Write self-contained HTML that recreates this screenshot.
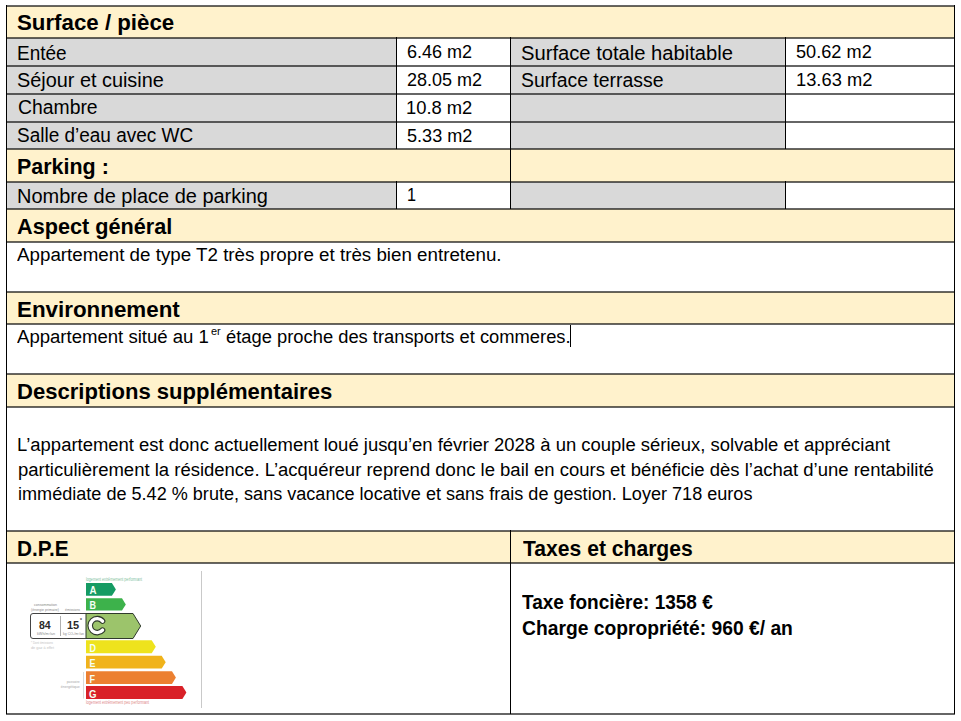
<!DOCTYPE html>
<html><head><meta charset="utf-8"><style>
html,body{margin:0;padding:0;background:#fff;width:961px;height:721px;overflow:hidden}
i{position:absolute;display:block}
.t{position:absolute;white-space:nowrap;font-family:"Liberation Sans",sans-serif;line-height:40px;color:#000;transform-origin:0 0}
sup{font-size:0.62em;vertical-align:0;position:relative;top:-0.45em;line-height:0}
</style></head><body>
<i style='left:6px;top:6px;width:948px;height:32px;background:#FFF2CC'></i><i style='left:6px;top:38px;width:390px;height:28px;background:#D9D9D9'></i><i style='left:510px;top:38px;width:275px;height:28px;background:#D9D9D9'></i><i style='left:6px;top:66px;width:390px;height:28px;background:#D9D9D9'></i><i style='left:510px;top:66px;width:275px;height:28px;background:#D9D9D9'></i><i style='left:6px;top:94px;width:390px;height:28px;background:#D9D9D9'></i><i style='left:510px;top:94px;width:275px;height:28px;background:#D9D9D9'></i><i style='left:6px;top:122px;width:390px;height:27px;background:#D9D9D9'></i><i style='left:510px;top:122px;width:275px;height:27px;background:#D9D9D9'></i><i style='left:6px;top:149px;width:948px;height:33px;background:#FFF2CC'></i><i style='left:6px;top:182px;width:390px;height:27px;background:#D9D9D9'></i><i style='left:510px;top:182px;width:275px;height:27px;background:#D9D9D9'></i><i style='left:6px;top:209px;width:948px;height:33px;background:#FFF2CC'></i><i style='left:6px;top:292px;width:948px;height:32px;background:#FFF2CC'></i><i style='left:6px;top:374px;width:948px;height:33px;background:#FFF2CC'></i><i style='left:6px;top:531px;width:948px;height:32px;background:#FFF2CC'></i><i style='left:6px;top:5px;width:949px;height:2px;background:rgba(0,0,0,0.6)'></i><i style='left:6px;top:37px;width:949px;height:2px;background:rgba(0,0,0,0.6)'></i><i style='left:6px;top:65px;width:949px;height:2px;background:rgba(0,0,0,0.6)'></i><i style='left:6px;top:93px;width:949px;height:2px;background:rgba(0,0,0,0.6)'></i><i style='left:6px;top:121px;width:949px;height:2px;background:rgba(0,0,0,0.6)'></i><i style='left:6px;top:148px;width:949px;height:2px;background:rgba(0,0,0,0.6)'></i><i style='left:6px;top:181px;width:949px;height:2px;background:rgba(0,0,0,0.6)'></i><i style='left:6px;top:208px;width:949px;height:2px;background:rgba(0,0,0,0.6)'></i><i style='left:6px;top:241px;width:949px;height:2px;background:rgba(0,0,0,0.6)'></i><i style='left:6px;top:291px;width:949px;height:2px;background:rgba(0,0,0,0.6)'></i><i style='left:6px;top:323px;width:949px;height:2px;background:rgba(0,0,0,0.6)'></i><i style='left:6px;top:373px;width:949px;height:2px;background:rgba(0,0,0,0.6)'></i><i style='left:6px;top:406px;width:949px;height:2px;background:rgba(0,0,0,0.6)'></i><i style='left:6px;top:530px;width:949px;height:2px;background:rgba(0,0,0,0.6)'></i><i style='left:6px;top:562px;width:949px;height:2px;background:rgba(0,0,0,0.6)'></i><i style='left:6px;top:713px;width:949px;height:2px;background:rgba(0,0,0,0.6)'></i><i style='left:6px;top:5px;width:1px;height:709px;background:#000'></i><i style='left:954px;top:5px;width:1px;height:709px;background:#000'></i><i style='left:396px;top:37px;width:1px;height:29px;background:#000'></i><i style='left:510px;top:37px;width:1px;height:29px;background:#000'></i><i style='left:785px;top:37px;width:1px;height:29px;background:#000'></i><i style='left:396px;top:65px;width:1px;height:29px;background:#000'></i><i style='left:510px;top:65px;width:1px;height:29px;background:#000'></i><i style='left:785px;top:65px;width:1px;height:29px;background:#000'></i><i style='left:396px;top:93px;width:1px;height:29px;background:#000'></i><i style='left:510px;top:93px;width:1px;height:29px;background:#000'></i><i style='left:785px;top:93px;width:1px;height:29px;background:#000'></i><i style='left:396px;top:121px;width:1px;height:28px;background:#000'></i><i style='left:510px;top:121px;width:1px;height:28px;background:#000'></i><i style='left:785px;top:121px;width:1px;height:28px;background:#000'></i><i style='left:396px;top:181px;width:1px;height:28px;background:#000'></i><i style='left:510px;top:181px;width:1px;height:28px;background:#000'></i><i style='left:785px;top:181px;width:1px;height:28px;background:#000'></i><i style='left:510px;top:148px;width:1px;height:34px;background:#000'></i><i style='left:510px;top:530px;width:1px;height:184px;background:#000'></i><div class='t' style='left:16.50px;top:3.30px;font-size:22px;font-weight:bold;transform:scaleX(1.0123)'>Surface / pièce</div><div class='t' style='left:17.33px;top:32.50px;font-size:19.5px;font-weight:normal;transform:scaleX(0.9740)'>Entée</div><div class='t' style='left:16.58px;top:59.50px;font-size:19.5px;font-weight:normal;transform:scaleX(1.0182)'>Séjour et cuisine</div><div class='t' style='left:17.60px;top:87.40px;font-size:19.5px;font-weight:normal;transform:scaleX(0.9925)'>Chambre</div><div class='t' style='left:16.63px;top:115.00px;font-size:19.5px;font-weight:normal;transform:scaleX(0.9733)'>Salle d’eau avec WC</div><div class='t' style='left:406.90px;top:32.00px;font-size:18.5px;font-weight:normal;transform:scaleX(0.9742)'>6.46 m2</div><div class='t' style='left:406.80px;top:60.00px;font-size:18.5px;font-weight:normal;transform:scaleX(0.9740)'>28.05 m2</div><div class='t' style='left:405.91px;top:88.00px;font-size:18.5px;font-weight:normal;transform:scaleX(0.9923)'>10.8 m2</div><div class='t' style='left:406.70px;top:116.00px;font-size:18.5px;font-weight:normal;transform:scaleX(0.9773)'>5.33 m2</div><div class='t' style='left:520.57px;top:32.60px;font-size:19.5px;font-weight:normal;transform:scaleX(1.0348)'>Surface totale habitable</div><div class='t' style='left:520.60px;top:60.20px;font-size:19.5px;font-weight:normal;transform:scaleX(0.9965)'>Surface terrasse</div><div class='t' style='left:796.10px;top:32.00px;font-size:18.5px;font-weight:normal;transform:scaleX(0.9818)'>50.62 m2</div><div class='t' style='left:796.31px;top:60.00px;font-size:18.5px;font-weight:normal;transform:scaleX(0.9895)'>13.63 m2</div><div class='t' style='left:17.23px;top:146.80px;font-size:22px;font-weight:bold;transform:scaleX(0.9750)'>Parking :</div><div class='t' style='left:16.98px;top:175.80px;font-size:19.5px;font-weight:normal;transform:scaleX(1.0242)'>Nombre de place de parking</div><div class='t' style='left:407.02px;top:175.00px;font-size:18.5px;font-weight:normal;transform:scaleX(0.8778)'>1</div><div class='t' style='left:17.40px;top:206.70px;font-size:22px;font-weight:bold;transform:scaleX(0.9841)'>Aspect général</div><div class='t' style='left:17.20px;top:234.60px;font-size:18px;font-weight:normal;transform:scaleX(1.0422)'>Appartement de type T2 très propre et très bien entretenu.</div><div class='t' style='left:16.88px;top:289.50px;font-size:22px;font-weight:bold;transform:scaleX(1.0164)'>Environnement</div><div class='t' style='left:17.20px;top:317.30px;font-size:18px;font-weight:normal;transform:scaleX(1.0312)'>Appartement situé au 1</div><div class='t' style='left:210.60px;top:311.00px;font-size:10.5px;font-weight:normal;transform:scaleX(1.0444)'>er</div><div class='t' style='left:225.60px;top:317.30px;font-size:18px;font-weight:normal;transform:scaleX(1.0190)'>étage proche des transports et commeres.</div><div class='t' style='left:17.00px;top:371.60px;font-size:22px;font-weight:bold;transform:scaleX(1.0032)'>Descriptions supplémentaires</div><div class='t' style='left:17.27px;top:424.80px;font-size:18px;font-weight:normal;transform:scaleX(1.0253)'>L’appartement est donc actuellement loué jusqu’en février 2028 à un couple sérieux, solvable et appréciant</div><div class='t' style='left:18.00px;top:449.50px;font-size:18px;font-weight:normal;transform:scaleX(1.0273)'>particulièrement la résidence. L’acquéreur reprend donc le bail en cours et bénéficie dès l’achat d’une rentabilité</div><div class='t' style='left:18.00px;top:473.80px;font-size:18px;font-weight:normal;transform:scaleX(1.0041)'>immédiate de 5.42 % brute, sans vacance locative et sans frais de gestion. Loyer 718 euros</div><div class='t' style='left:17.36px;top:528.70px;font-size:22px;font-weight:bold;transform:scaleX(0.9434)'>D.P.E</div><div class='t' style='left:522.70px;top:528.60px;font-size:22px;font-weight:bold;transform:scaleX(0.9593)'>Taxes et charges</div><div class='t' style='left:521.70px;top:581.70px;font-size:20px;font-weight:bold;transform:scaleX(0.9498)'>Taxe foncière: 1358 €</div><div class='t' style='left:521.70px;top:608.40px;font-size:20px;font-weight:bold;transform:scaleX(0.9633)'>Charge copropriété: 960 €/ an</div><i style='left:570px;top:325px;width:1px;height:22px;background:#000'></i>
<svg style='position:absolute;left:0;top:0' width='961' height='721' viewBox='0 0 961 721'><line x1='201.5' y1='571' x2='201.5' y2='708' stroke='#c9c9c9' stroke-width='1'/><text x='86' y='581' font-size='4.6' fill='#7fbf9f' textLength='56' lengthAdjust='spacingAndGlyphs' style="font-family:'Liberation Sans',sans-serif">logement extrêmement performant</text><polygon points='86,583 111.9,583 115.9,589.4 111.9,595.8 86,595.8' fill='#159b63'/><polygon points='86,598.2 122.0,598.2 125.8,604.4 122.0,610.6 86,610.6' fill='#3db24b'/><polygon points='86,640.2 151.7,640.2 155.8,646.8 151.7,653.3 86,653.3' fill='#eee31d'/><polygon points='86,655.8 161.7,655.8 165.7,662.2 161.7,668.6 86,668.6' fill='#f0b31b'/><polygon points='86,671.2 172.0,671.2 175.9,677.5 172.0,683.9 86,683.9' fill='#ec8031'/><polygon points='86,686.1 182.4,686.1 186.4,692.5 182.4,698.9 86,698.9' fill='#d92128'/><rect x='30.5' y='613.5' width='60' height='25' rx='2.5' fill='#fff' stroke='#444' stroke-width='1'/><polygon points='86,613.5 133,613.5 140.7,626 133,638.5 86,638.5' fill='#9cc46b' stroke='#2f3a2c' stroke-width='1'/><line x1='60.5' y1='616' x2='60.5' y2='636' stroke='#9a9a9a' stroke-width='0.8'/><text x='39' y='628.6' font-size='11.5' font-weight='bold' fill='#2a2a2a' textLength='11.7' lengthAdjust='spacingAndGlyphs' style="font-family:'Liberation Sans',sans-serif">84</text><text x='66.9' y='628.6' font-size='11.5' font-weight='bold' fill='#2a2a2a' textLength='12.2' lengthAdjust='spacingAndGlyphs' style="font-family:'Liberation Sans',sans-serif">15</text><text x='80' y='622' font-size='5' font-weight='bold' fill='#444' style="font-family:'Liberation Sans',sans-serif">*</text><text x='37' y='635' font-size='3.6' fill='#888' textLength='18' lengthAdjust='spacingAndGlyphs' style="font-family:'Liberation Sans',sans-serif">kWh/m²/an</text><text x='63' y='635' font-size='3.6' fill='#888' textLength='21' lengthAdjust='spacingAndGlyphs' style="font-family:'Liberation Sans',sans-serif">kg CO₂/m²/an</text><text x='34' y='605.5' font-size='3.8' fill='#888' textLength='23' lengthAdjust='spacingAndGlyphs' style="font-family:'Liberation Sans',sans-serif">consommation</text><text x='31' y='611' font-size='3.8' fill='#888' textLength='28' lengthAdjust='spacingAndGlyphs' style="font-family:'Liberation Sans',sans-serif">(énergie primaire)</text><text x='65' y='611' font-size='3.8' fill='#888' textLength='15' lengthAdjust='spacingAndGlyphs' style="font-family:'Liberation Sans',sans-serif">émissions</text><text x='31' y='643.5' font-size='3.8' fill='#c4c4c4' textLength='22' lengthAdjust='spacingAndGlyphs' style="font-family:'Liberation Sans',sans-serif">* Dont émissions</text><text x='31' y='648.5' font-size='3.8' fill='#c4c4c4' textLength='23' lengthAdjust='spacingAndGlyphs' style="font-family:'Liberation Sans',sans-serif">de gaz à effet</text><text x='66.7' y='683.2' font-size='3.8' fill='#a8a8a8' textLength='13' lengthAdjust='spacingAndGlyphs' style="font-family:'Liberation Sans',sans-serif">passoire</text><text x='60.8' y='688.3' font-size='3.8' fill='#a8a8a8' textLength='19' lengthAdjust='spacingAndGlyphs' style="font-family:'Liberation Sans',sans-serif">énergétique</text><line x1='83.5' y1='672' x2='83.5' y2='698.5' stroke='#d0d0d0' stroke-width='0.8'/><text x='86' y='704' font-size='4.6' fill='#e08a8a' textLength='63' lengthAdjust='spacingAndGlyphs' style="font-family:'Liberation Sans',sans-serif">logement extrêmement peu performant</text><text x='89.5' y='593.8' font-size='11' font-weight='bold' fill='#f4fff4' textLength='7' lengthAdjust='spacingAndGlyphs' style="font-family:'Liberation Sans',sans-serif">A</text><text x='89.5' y='609.2' font-size='11' font-weight='bold' fill='#f4fff4' textLength='6.5' lengthAdjust='spacingAndGlyphs' style="font-family:'Liberation Sans',sans-serif">B</text><text x='89.5' y='651.9' font-size='11' font-weight='bold' fill='#f4fff4' textLength='6.5' lengthAdjust='spacingAndGlyphs' style="font-family:'Liberation Sans',sans-serif">D</text><text x='89.5' y='667.3' font-size='11' font-weight='bold' fill='#f4fff4' textLength='6' lengthAdjust='spacingAndGlyphs' style="font-family:'Liberation Sans',sans-serif">E</text><text x='89.5' y='682.6' font-size='11' font-weight='bold' fill='#f4fff4' textLength='5.5' lengthAdjust='spacingAndGlyphs' style="font-family:'Liberation Sans',sans-serif">F</text><text x='89.0' y='697.6' font-size='11' font-weight='bold' fill='#f4fff4' textLength='7.5' lengthAdjust='spacingAndGlyphs' style="font-family:'Liberation Sans',sans-serif">G</text><path d='M102.56,621.10 A7.0,7.0 0 1 0 102.56,630.10' fill='none' stroke='#2f3a2c' stroke-width='5.6' stroke-linecap='round'/><path d='M102.56,621.10 A7.0,7.0 0 1 0 102.56,630.10' fill='none' stroke='#fff' stroke-width='3.4' stroke-linecap='round'/></svg>
</body></html>
